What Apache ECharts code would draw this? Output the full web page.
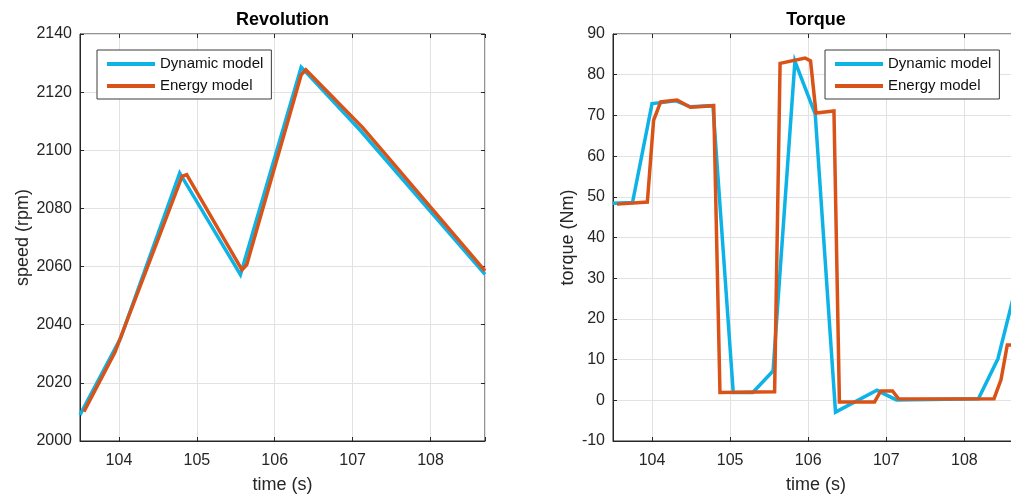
<!DOCTYPE html>
<html>
<head>
<meta charset="utf-8">
<script src="https://cdn.jsdelivr.net/npm/echarts@6/dist/echarts.min.js"></script>
<style>
html,body{margin:0;padding:0;background:#fff;}
#chart{width:1011px;height:495px;}
</style>
</head>
<body>
<div id="chart"></div>
<script>
// ---- Data ----
const seriesNames = ['Dynamic model', 'Energy model'];
const titles = ['Revolution', 'Torque'];
const yNames = ['speed (rpm)', 'torque (Nm)'];
const xName = 'time (s)';

// Revolution (rpm)
const revDynT = [103.5, 104.02, 104.78, 105.56, 106.34, 107.1, 108.7];
const revDynV = [2009, 2035.3, 2092.2, 2057.2, 2128.6, 2106.8, 2057.3];
const revEnT  = [103.55, 103.95, 104.81, 104.87, 105.58, 105.64, 106.34, 106.4, 107.13, 108.7];
const revEnV  = [2010.1, 2030.6, 2091.0, 2091.6, 2058.9, 2060.6, 2126.0, 2127.7, 2107.8, 2058.5];

// Torque (Nm)
const torDynT = [103.5, 103.75, 104.0, 104.15, 104.3, 104.49, 104.78, 105.04, 105.29, 105.55, 105.83, 106.09, 106.35, 106.88, 106.96, 107.13, 108.18, 108.43, 108.61, 108.7];
const torDynV = [48.4, 48.6, 72.9, 73.2, 73.6, 72.1, 72.4, 1.9, 1.9, 7.2, 83.3, 70.3, -2.9, 2.5, 1.7, 0.1, 0.4, 10.2, 24.0, 31.0];
const torEnT  = [103.55, 103.94, 104.02, 104.11, 104.32, 104.49, 104.79, 104.87, 105.57, 105.64, 105.96, 106.03, 106.1, 106.33, 106.4, 106.85, 106.93, 107.08, 107.16, 108.38, 108.47, 108.55, 108.7];
const torEnV  = [48.2, 48.7, 68.8, 73.3, 73.8, 72.0, 72.4, 1.9, 2.1, 82.8, 84.1, 83.4, 70.6, 71.1, -0.4, -0.4, 2.3, 2.3, 0.3, 0.4, 5.1, 13.6, 13.6];

const xMin = 103.5, xMax = 108.7;
const yRanges = [[2000, 2140, 20], [-10, 90, 10]];

// ---- Build ----
const zip = (t, v) => t.map((x, i) => [x, v[i]]);
const colors = ['#0db3e6', '#d95319'];
const FONT = '"Liberation Sans", Arial, Helvetica, sans-serif';
const AX = '#262626';

const grids = [
  {left: 80, right: 526, top: 34, bottom: 54, show: true, borderColor: AX, borderWidth: 1, backgroundColor: '#fff', outerBoundsMode: 'none', containLabel: false},
  {left: 613, right: -8, top: 34, bottom: 54, show: true, borderColor: AX, borderWidth: 1, backgroundColor: '#fff', outerBoundsMode: 'none', containLabel: false}
];

function intLabel(v) { return Math.abs(v - Math.round(v)) < 1e-6 ? String(Math.round(v)) : ''; }

const xAxes = [], yAxes = [];
[0, 1].forEach(g => {
  xAxes.push({
    type: 'value', gridIndex: g, min: xMin, max: xMax, position: 'bottom',
    name: xName, nameLocation: 'middle', nameGap: 35,
    nameTextStyle: {fontSize: 18, color: AX, fontFamily: FONT},
    axisLine: {show: true, onZero: false, lineStyle: {color: AX, width: 1}},
    axisTick: {show: true, inside: true, length: 4, lineStyle: {color: AX}},
    axisLabel: {formatter: intLabel, fontSize: 16, color: AX, fontFamily: FONT, margin: 12},
    splitLine: {show: true, lineStyle: {color: '#e2e2e2', width: 1}}
  });
  xAxes.push({
    type: 'value', gridIndex: g, min: xMin, max: xMax, position: 'top',
    axisLine: {show: false, onZero: false},
    axisTick: {show: true, inside: true, length: 4, lineStyle: {color: AX}},
    axisLabel: {show: false}, splitLine: {show: false}
  });
  const r = yRanges[g];
  yAxes.push({
    type: 'value', gridIndex: g, min: r[0], max: r[1], interval: r[2], position: 'left',
    name: yNames[g], nameLocation: 'middle', nameGap: g === 0 ? 45 : 36,
    nameTextStyle: {fontSize: 18, color: AX, fontFamily: FONT},
    axisLine: {show: true, onZero: false, lineStyle: {color: AX, width: 1}},
    axisTick: {show: true, inside: true, length: 4, lineStyle: {color: AX}},
    axisLabel: {formatter: v => String(v), fontSize: 16, color: AX, fontFamily: FONT, margin: 8},
    splitLine: {show: true, lineStyle: {color: '#e2e2e2', width: 1}}
  });
  yAxes.push({
    type: 'value', gridIndex: g, min: r[0], max: r[1], interval: r[2], position: 'right',
    axisLine: {show: false, onZero: false},
    axisTick: {show: true, inside: true, length: 4, lineStyle: {color: AX}},
    axisLabel: {show: false}, splitLine: {show: false}
  });
});

const data = [
  [zip(revDynT, revDynV), zip(revEnT, revEnV)],
  [zip(torDynT, torDynV), zip(torEnT, torEnV)]
];

const series = [];
[0, 1].forEach(g => {
  [0, 1].forEach(s => {
    series.push({
      name: seriesNames[s], type: 'line', xAxisIndex: g * 2, yAxisIndex: g * 2,
      data: data[g][s], symbol: 'none', showSymbol: false, animation: false,
      lineStyle: {color: colors[s], width: 3.5, join: 'miter'},
      itemStyle: {color: colors[s]}, z: 2 + s
    });
  });
});

function legendAt(left) {
  return {
    left: left, top: 50, orient: 'vertical', data: seriesNames,
    icon: 'rect', itemWidth: 48, itemHeight: 4, itemGap: 4,
    padding: [5, 8, 4, 10], borderColor: '#3c3c3c', borderWidth: 1, borderRadius: 0,
    backgroundColor: '#fff', selectedMode: false,
    textStyle: {fontSize: 15, color: '#111', fontFamily: FONT, lineHeight: 18}
  };
}

const option = {
  animation: false,
  backgroundColor: '#fff',
  title: [
    {text: titles[0], left: 282.5, top: 11, textAlign: 'center', padding: 0,
     textStyle: {fontSize: 18, fontWeight: 'bold', color: '#000', fontFamily: FONT}},
    {text: titles[1], left: 816, top: 11, textAlign: 'center', padding: 0,
     textStyle: {fontSize: 18, fontWeight: 'bold', color: '#000', fontFamily: FONT}}
  ],
  legend: [legendAt(97), legendAt(825)],
  grid: grids,
  xAxis: xAxes,
  yAxis: yAxes,
  series: series
};

const chart = echarts.init(document.getElementById('chart'), null, {renderer: 'canvas'});
chart.setOption(option);
</script>
</body>
</html>
